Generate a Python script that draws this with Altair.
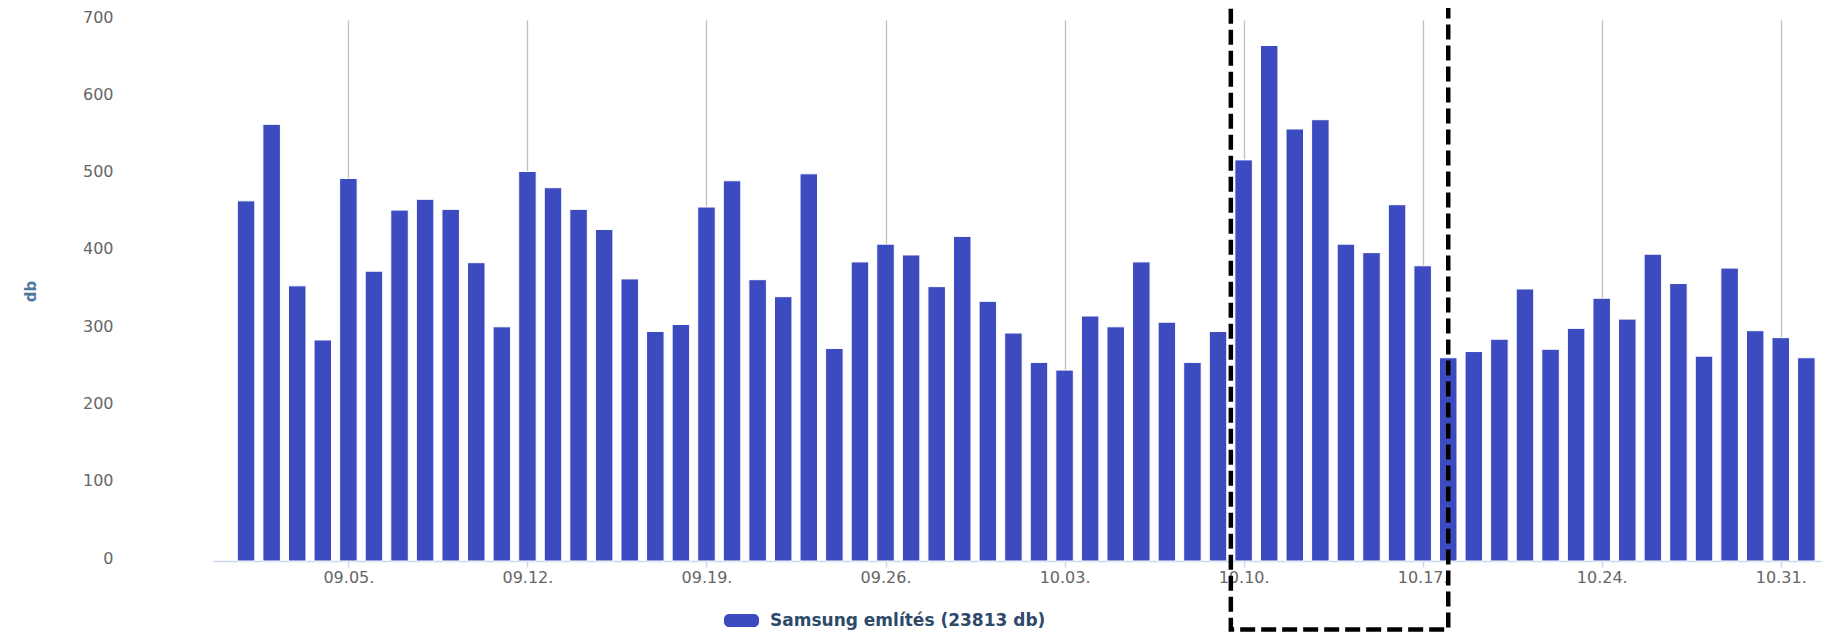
import altair as alt
import pandas as pd

# ---- data -----------------------------------------------------------
dates = pd.date_range("2016-09-01", "2016-11-01", freq="D").strftime("%Y-%m-%dT00:00:00").tolist()

values = [
    466, 565, 356, 286, 495, 375, 454, 468, 455, 386,   # 09.01-09.10
    303, 504, 483, 455, 429, 365, 297, 306, 458, 492,   # 09.11-09.20
    364, 342, 501, 275, 387, 410, 396, 355, 420, 336,   # 09.21-09.30
    295, 257, 247, 317, 303, 387, 309, 257, 297, 519,   # 10.01-10.10
    667, 559, 571, 410, 399, 461, 382, 263, 271, 287,   # 10.11-10.20
    352, 274, 301, 340, 313, 397, 359, 265, 379, 298,   # 10.21-10.30
    289, 263,                                           # 10.31-11.01
]

series_name = "Samsung említés (23813 db)"

tick_days = [(9, 5), (9, 12), (9, 19), (9, 26), (10, 3), (10, 10), (10, 17), (10, 24), (10, 31)]
y_ticks = [0, 100, 200, 300, 400, 500, 600, 700]

box_start = ["2016-10-09T12:00:00"]
box_end = ["2016-10-18T00:00:00"]

df = pd.DataFrame({"date": dates, "value": values, "series": series_name})
box_df = pd.DataFrame({"start": box_start, "end": box_end})

FONT = "DejaVu Sans"

x_scale = alt.Scale(domain=[
    alt.DateTime(year=2016, month=8, date=30, hours=21, minutes=40),
    alt.DateTime(year=2016, month=11, date=1, hours=10),
])

rounded = ("M-0.71,-0.37 L0.71,-0.37 A0.29,0.29 0 0 1 1,-0.08 L1,0.08 "
           "A0.29,0.29 0 0 1 0.71,0.37 L-0.71,0.37 A0.29,0.29 0 0 1 -1,0.08 "
           "L-1,-0.08 A0.29,0.29 0 0 1 -0.71,-0.37 Z")

bars = alt.Chart(df).mark_bar(size=17.5, stroke="#ffffff", strokeWidth=1).encode(
    x=alt.X(
        "date:T",
        scale=x_scale,
        title=None,
        axis=alt.Axis(
            values=[alt.DateTime(year=2016, month=m, date=d) for m, d in tick_days],
            format="%m.%d.",
            grid=True,
            gridColor="#bfbfbf",
            gridWidth=1.3,
            domainColor="#ccd6eb",
            domainWidth=1.5,
            tickColor="#ccd6eb",
            tickSize=6,
            tickWidth=1.5,
            labelFont=FONT,
            labelFontSize=16,
            labelColor="#666666",
            labelPadding=2,
        ),
    ),
    y=alt.Y(
        "value:Q",
        scale=alt.Scale(domain=[0, 700]),
        title="db",
        axis=alt.Axis(
            values=y_ticks,
            grid=False,
            domain=False,
            ticks=False,
            tickSize=0,
            labelFont=FONT,
            labelFontSize=16,
            labelColor="#666666",
            labelPadding=100,
            labelBaseline="middle",
            labelOffset=-3,
            titleFont=FONT,
            titleFontSize=15,
            titleFontWeight="bold",
            titleColor="#4d759e",
            titleAngle=270,
            titleAlign="center",
            titleBaseline="middle",
            titleX=-183,
            titleY=271,
        ),
    ),
    color=alt.Color(
        "series:N",
        scale=alt.Scale(domain=[series_name], range=["#3c4bbf"]),
        legend=alt.Legend(
            title=None,
            orient="none",
            legendX=511,
            legendY=583,
            symbolType=rounded,
            symbolSize=1225,
            symbolStrokeWidth=0,
            symbolOpacity=1,
            labelFont=FONT,
            labelFontSize=17,
            labelFontWeight="bold",
            labelColor="#2e4a6a",
            labelLimit=0,
            labelOffset=11,
            padding=0,
        ),
    ),
)

box = alt.Chart(box_df).mark_rect(
    fillOpacity=0, stroke="#000000", strokeWidth=4.5, strokeDash=[15, 6]
).encode(
    x="start:T",
    x2="end:T",
    y=alt.value(-30),
    y2=alt.value(609.5),
)

chart = alt.layer(bars, box).properties(
    width=1609,
    height=541,
    padding={"left": 205, "top": 12, "right": 0, "bottom": 72},
    autosize=alt.AutoSizeParams(type="none"),
).configure_view(strokeWidth=0)

chart.save("out.html", embed_options={"renderer": "svg", "actions": False})
